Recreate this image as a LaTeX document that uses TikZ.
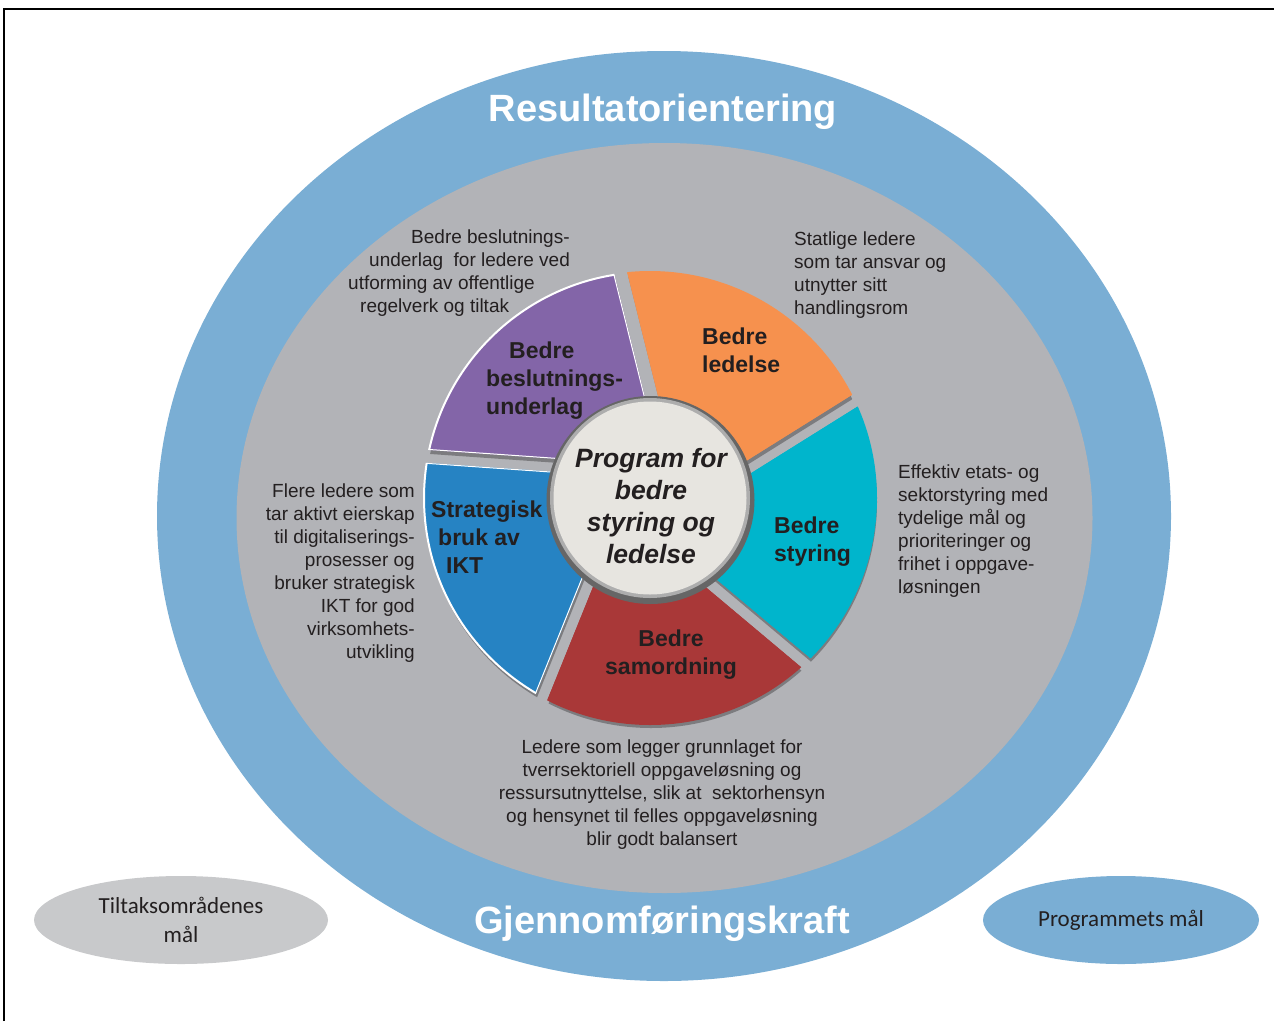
\documentclass[tikz,border=0pt]{standalone}
\usepackage{fontspec}
\setmainfont{Liberation Sans}
\newfontfamily\calfont{Carlito}
\usepackage{tikz}
\usetikzlibrary{positioning, calc, shapes.geometric}
\definecolor{ringblue}{HTML}{7AAED4}
\definecolor{bggray}{HTML}{B2B3B7}
\definecolor{goalgray}{HTML}{C8C9CB}
\definecolor{segpurple}{HTML}{8365A8}
\definecolor{segorange}{HTML}{F6914E}
\definecolor{segcyan}{HTML}{00B5CC}
\definecolor{segred}{HTML}{A93838}
\definecolor{segblue}{HTML}{2683C3}
\definecolor{cream}{HTML}{E7E5E0}
\definecolor{txtgray}{HTML}{231F20}
\tikzset{desc/.style = {inner sep=0pt, text=txtgray, font=\fontsize{19}{23}\selectfont},
    seglabel/.style = {inner sep=0pt, text=txtgray, font=\fontsize{23}{28}\selectfont\bfseries},
    ringtitle/.style = {inner sep=0pt, text=white, font=\fontsize{38}{40}\selectfont\bfseries},
    goal/.style = {ellipse, inner sep=0pt, minimum height=88pt, align=center, text=txtgray, font=\calfont\fontsize{23}{29}\selectfont},
    wedge/.style = {insert path={(#1-90:32.5) -- ++(#1:420) -- (#1-36:520) -- ($(#1-162:19.5)+(#1-72:420)$) -- (#1-162:19.5) -- cycle}}}

\begin{document}
\begin{tikzpicture}[x=1pt,y=1pt]
                \useasboundingbox (0,0) rectangle (1274,-1021);
                \draw[line width=2] (3.5,-1021) -- (3.5,-9) -- (1274,-9);
                \fill[ringblue] (664,-516) ellipse [x radius=507, y radius=465];
                \fill[bggray] (664.5,-518) ellipse [x radius=428, y radius=375];
                \node[ringtitle] (resultat) at (663,-112) {Resultatorientering};
                \node[ringtitle] (gjennomforing) at (662,-924) {Gjennomføringskraft};
                \node[goal, fill=goalgray, minimum width=294pt] (tiltakmal) at (181,-920) {Tiltaksområdenes\\mål};
                \node[goal, fill=ringblue, minimum width=276pt] (programmal) at (1121,-920) {Programmets mål};
                \begin{scope}[shift={(650,-498)}]
                    \foreach \t in {176,104,32,-40,-112} {
                        \begin{scope}[shift={(1,-4)}]
                            \clip[wedge=\t];
                            \fill[black, opacity=.3, even odd rule] (0,0) circle (226) circle (100);
                        \end{scope}
                    }
                    \foreach \t/\c/\e in {176/segpurple/white, 104/segorange/segorange, 32/segcyan/segcyan, -40/segred/segred, -112/segblue/white} {
                        \begin{scope}
                            \clip[wedge=\t];
                            \fill[\c, even odd rule] (0,0) circle (226) circle (100);
                            \draw[\e, line width=2] (0,0) circle (226);
                            \clip (0,0) circle (226);
                            \draw[\e, line width=2, wedge=\t];
                        \end{scope}
                    }
                    \fill[black!60] (0.5,-2) circle (104);
                    \fill[black!32] (0,0) circle (100);
                    \fill[cream] (0,0) circle (96.5);
                    \node[inner sep=0pt, align=center, text=txtgray, font=\fontsize{26.5}{32}\selectfont\bfseries\itshape] (program) at (1,-8) {Program for\\bedre\\styring og\\ledelse};
                \end{scope}
                \node[seglabel, anchor=west, align=left] (beslutning) at (486,-381) {\hspace*{23pt}Bedre\\beslutnings-\\underlag};
                \node[seglabel, anchor=west, align=left] (ledelse) at (702,-350) {Bedre\\ledelse};
                \node[seglabel, anchor=west, align=left] (styring) at (774,-542) {Bedre\\styring};
                \node[seglabel, align=center] (samordning) at (671,-655) {Bedre\\samordning};
                \node[seglabel, anchor=west, align=left] (ikt) at (431,-537) {Strategisk\\\hspace*{7pt}bruk av\\\hspace*{15pt}IKT};
                \node[desc, anchor=west, align=left] (beslutningdesc) at (348,-273) {\hspace*{63pt}Bedre beslutnings-\\\hspace*{21pt}underlag\ \ for ledere ved\\utforming av offentlige\\\hspace*{12pt}regelverk og tiltak};
                \node[desc, anchor=west, align=left] (ledelsedesc) at (794,-275) {Statlige ledere\\som tar ansvar og\\utnytter sitt\\handlingsrom};
                \node[desc, anchor=west, align=left] (styringdesc) at (898,-531) {Effektiv etats- og\\sektorstyring med\\tydelige mål og\\prioriteringer og\\frihet i oppgave-\\løsningen};
                \node[desc, align=center] (samordningdesc) at (662,-795) {Ledere som legger grunnlaget for\\tverrsektoriell oppgaveløsning og\\ressursutnyttelse, slik at\ \ sektorhensyn\\og hensynet til felles oppgaveløsning\\blir godt balansert};
                \node[desc, anchor=east, align=right] (iktdesc) at (415,-573) {Flere ledere som\\tar aktivt eierskap\\til digitaliserings-\\prosesser og\\bruker strategisk\\IKT for god\\virksomhets-\\utvikling};
            \end{tikzpicture}
\end{document}
